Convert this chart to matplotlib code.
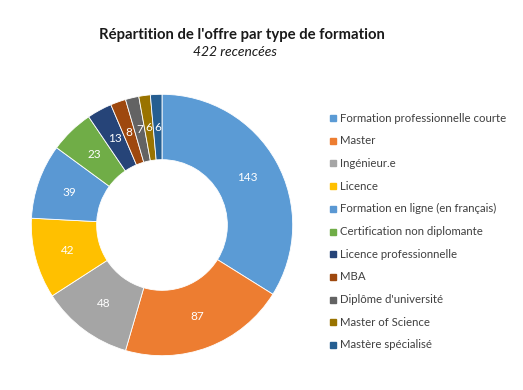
import matplotlib
matplotlib.use("Agg")
import matplotlib.pyplot as plt
from matplotlib.patches import Rectangle

plt.rcParams['font.family'] = ['Lato', 'DejaVu Sans']

categories = [
    "Formation professionnelle courte",
    "Master",
    "Ingénieur.e",
    "Licence",
    "Formation en ligne (en français)",
    "Certification non diplomante",
    "Licence professionnelle",
    "MBA",
    "Diplôme d'université",
    "Master of Science",
    "Mastère spécialisé",
]
counts = [143, 87, 48, 42, 39, 23, 13, 8, 7, 6, 6]
colors = ["#5B9BD5", "#ED7D31", "#A5A5A5", "#FFC000", "#5A98D3", "#70AD47",
          "#264478", "#9E480E", "#636363", "#997300", "#255E91"]

W, H = 523, 390
fig = plt.figure(figsize=(W / 100, H / 100), dpi=100)

# donut: center (162, 225) px, radius 132 px
cx, cy, r = 162, 225, 132
ax = fig.add_axes([(cx - r) / W, (H - cy - r) / H, 2 * r / W, 2 * r / H])
wedges, texts = ax.pie(counts, colors=colors, startangle=90, counterclock=False,
                       radius=1, wedgeprops=dict(width=0.5, edgecolor="white", linewidth=0.6),
                       labels=[str(c) for c in counts], labeldistance=0.75,
                       textprops=dict(color="white", fontsize=8.5))
for t in texts:
    t.set_ha("center")
    t.set_va("center")
ax.set_xlim(-1.01, 1.01)
ax.set_ylim(-1.01, 1.01)
ax.set_aspect("equal")
ax.axis("off")

fig.text(242 / W, 1 - 35 / H, "Répartition de l'offre par type de formation",
         ha="center", va="center", fontsize=10.75, fontweight="bold", color="#1a1a1a")
fig.text(235 / W, 1 - 52 / H, "422 recencées", ha="center", va="center",
         fontsize=10, style="italic", color="#1a1a1a")

# legend
y0, dy = 118, 22.7
for i, (lab, col) in enumerate(zip(categories, colors)):
    y = y0 + i * dy
    fig.patches.append(Rectangle(((330) / W, 1 - (y + 3) / H), 6 / W, 6 / H,
                                 color=col, transform=fig.transFigure, figure=fig))
    fig.text(340 / W, 1 - y / H, lab, ha="left", va="center", fontsize=8.2, color="#404040")

fig.savefig("out.png", dpi=100, facecolor="white")
